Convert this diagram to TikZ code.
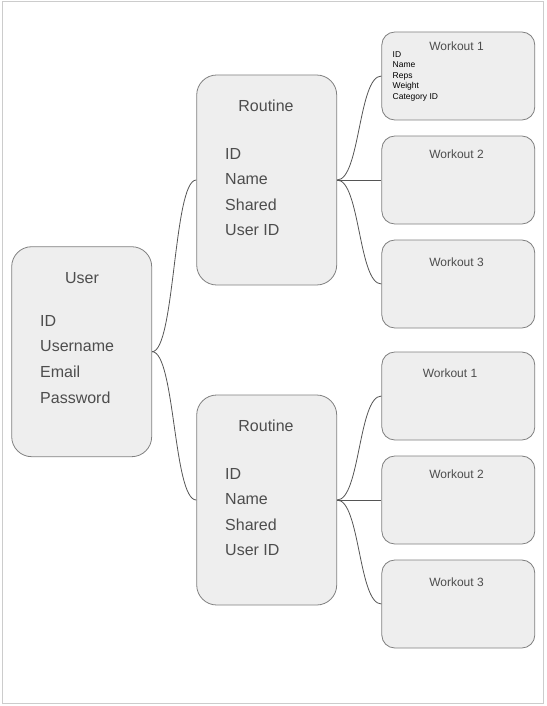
\documentclass[tikz,border=0pt]{standalone}
\usepackage{fontspec}
\setmainfont{Liberation Sans}
\definecolor{boxfill}{HTML}{EEEEEE}
\definecolor{boxline}{HTML}{808080}
\definecolor{txt}{HTML}{4D4D4D}
\definecolor{conn}{HTML}{555555}
\definecolor{frame}{HTML}{CCCCCC}
\tikzset{
  bigbox/.style={draw=boxline, fill=boxfill, rounded corners=20pt, line width=0.8pt, minimum width=140pt, minimum height=210pt, inner sep=0pt},
  wbox/.style={draw=boxline, fill=boxfill, rounded corners=13pt, line width=0.8pt, minimum width=153pt, minimum height=88pt, inner sep=0pt},
  bigtxt/.style={inner sep=0pt, text=txt, font=\fontsize{16}{16}\selectfont},
  wtitle/.style={inner sep=0pt, text=txt, font=\fontsize{12}{12}\selectfont, anchor=base},
  smalltxt/.style={inner sep=0pt, text=black, font=\fontsize{8.5}{8.5}\selectfont, anchor=base west},
  conline/.style={draw=conn, line width=0.8pt}
}
\begin{document}
\begin{tikzpicture}[x=1pt,y=-1pt]
\useasboundingbox (0,0) rectangle (546,706);
\draw[frame, line width=0.8pt] (2,1) rectangle (543,703);

% boxes
\node[bigbox] (user) at (81.7,351.7) {};
\node[bigbox] (r1) at (266.7,180) {};
\node[bigbox] (r2) at (266.7,500) {};
\node[wbox] (w11) at (458.3,76) {};
\node[wbox] (w12) at (458.3,180) {};
\node[wbox] (w13) at (458.3,284) {};
\node[wbox] (w21) at (458.3,396) {};
\node[wbox] (w22) at (458.3,500) {};
\node[wbox] (w23) at (458.3,604) {};

% connectors
\draw[conline] (user.east) .. controls +(23,0) and +(-23,0) .. (r1.west);
\draw[conline] (user.east) .. controls +(23,0) and +(-23,0) .. (r2.west);
\foreach \r/\a/\b/\c in {r1/w11/w12/w13, r2/w21/w22/w23}{
  \draw[conline] (\r.east) .. controls +(23,0) and +(-23,0) .. (\a.west);
  \draw[conline] (\r.east) .. controls +(23,0) and +(-23,0) .. (\b.west);
  \draw[conline] (\r.east) .. controls +(23,0) and +(-23,0) .. (\c.west);
}

% user text
\node[bigtxt, anchor=base] (ut) at (82,283) {User};
\node[bigtxt, anchor=base west] (u1) at (40,326) {ID};
\node[bigtxt, anchor=base west] (u2) at (40,351.5) {Username};
\node[bigtxt, anchor=base west] (u3) at (40,377) {Email};
\node[bigtxt, anchor=base west] (u4) at (40,403) {Password};

% routine texts
\node[bigtxt, anchor=base] (r1t) at (266,111) {Routine};
\node[bigtxt, anchor=base west] (r1a) at (225,159) {ID};
\node[bigtxt, anchor=base west] (r1b) at (225,184.5) {Name};
\node[bigtxt, anchor=base west] (r1c) at (225,210) {Shared};
\node[bigtxt, anchor=base west] (r1d) at (225,235) {User ID};

\node[bigtxt, anchor=base] (r2t) at (266,431) {Routine};
\node[bigtxt, anchor=base west] (r2a) at (225,479) {ID};
\node[bigtxt, anchor=base west] (r2b) at (225,504.5) {Name};
\node[bigtxt, anchor=base west] (r2c) at (225,530) {Shared};
\node[bigtxt, anchor=base west] (r2d) at (225,555) {User ID};

% workout titles
\node[wtitle] (w11t) at (456.5,51) {Workout 1};
\node[wtitle] (w12t) at (456.5,158) {Workout 2};
\node[wtitle] (w13t) at (456.5,266) {Workout 3};
\node[wtitle] (w21t) at (450,377.5) {Workout 1};
\node[wtitle] (w22t) at (456.5,478) {Workout 2};
\node[wtitle] (w23t) at (456.5,586) {Workout 3};

% workout 1 fields
\node[smalltxt] (f1) at (392.5,57.5) {ID};
\node[smalltxt] (f2) at (392.5,68) {Name};
\node[smalltxt] (f3) at (392.5,78.5) {Reps};
\node[smalltxt] (f4) at (392.5,89) {Weight};
\node[smalltxt] (f5) at (392.5,100) {Category ID};
\end{tikzpicture}
\end{document}
